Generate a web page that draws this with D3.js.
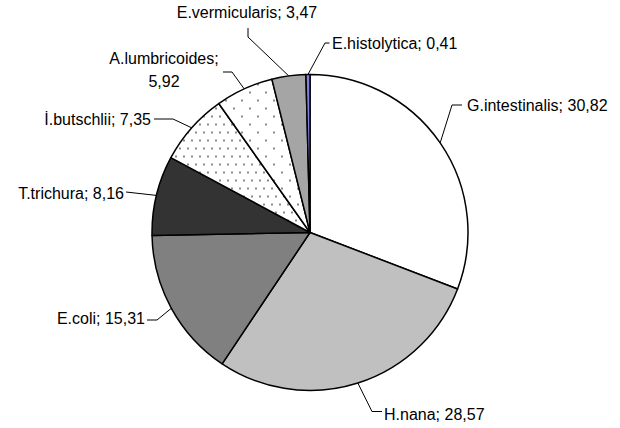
<!DOCTYPE html>
<html>
<head>
<meta charset="utf-8">
<script src="https://cdn.jsdelivr.net/npm/d3@7/dist/d3.min.js"></script>
<style>
  html, body { margin: 0; padding: 0; background: #fff; }
  svg { display: block; }
</style>
</head>
<body>
<svg id="chart"></svg>
<script>
// data
const categories = ['G.intestinalis', 'H.nana', 'E.coli', 'T.trichura', 'İ.butschlii', 'A.lumbricoides', 'E.vermicularis', 'E.histolytica'];
const values = [30.82, 28.57, 15.31, 8.16, 7.35, 5.92, 3.47, 0.41];
const valueLabels = ['30,82', '28,57', '15,31', '8,16', '7,35', '5,92', '3,47', '0,41'];

// fills: plain colours or pattern ids
const fills = ['#ffffff', '#c0c0c0', '#808080', '#333333', 'url(#dotsDense)', 'url(#dotsSparse)', 'url(#checker)', '#8080e0'];

// label placement, relative to pie centre (bend point, end point, text anchor)
const labelLayout = [
  { bend: [142, -127.5], end: [152, -127.5], text: [157, -121.5], anchor: 'start' },
  { bend: [62, 179], end: [72, 179], text: [74, 187.5], anchor: 'start' },
  { bend: [-153, 87.5], end: [-163, 87.5], text: [-165, 91], anchor: 'end' },
  { bend: [-184, -40.5], end: [-184, -40.5], text: [-186, -33.5], anchor: 'end' },
  { bend: [-137, -113.5], end: [-156, -113.5], text: [-159, -107.5], anchor: 'end' },
  { bend: [-78, -160.5], end: [-87, -160.5], text: [-146, -168.5], anchor: 'middle', twoLines: true },
  { bend: [-62, -195.5], end: [-62, -204.5], text: [-63, -215], anchor: 'middle' },
  { bend: [15, -189.5], end: [19.5, -189.5], text: [22, -184], anchor: 'start' }
];

const W = 620, H = 428;
const cx = 310, cy = 232.5, radius = 158;

const svg = d3.select('#chart')
  .attr('width', W)
  .attr('height', H);

// patterns
const defs = svg.append('defs');

const dense = defs.append('pattern')
  .attr('id', 'dotsDense')
  .attr('patternUnits', 'userSpaceOnUse')
  .attr('width', 8).attr('height', 16);
dense.append('rect').attr('width', 8).attr('height', 16).attr('fill', '#fff');
dense.append('rect').attr('x', 1).attr('y', 3).attr('width', 2).attr('height', 2).attr('fill', '#8a8a8a');
dense.append('rect').attr('x', 5).attr('y', 11).attr('width', 2).attr('height', 2).attr('fill', '#8a8a8a');

const sparse = defs.append('pattern')
  .attr('id', 'dotsSparse')
  .attr('patternUnits', 'userSpaceOnUse')
  .attr('width', 16).attr('height', 16);
sparse.append('rect').attr('width', 16).attr('height', 16).attr('fill', '#fff');
sparse.append('rect').attr('x', 3).attr('y', 3).attr('width', 2).attr('height', 2).attr('fill', '#8a8a8a');
sparse.append('rect').attr('x', 11).attr('y', 11).attr('width', 2).attr('height', 2).attr('fill', '#8a8a8a');

const checker = defs.append('pattern')
  .attr('id', 'checker')
  .attr('patternUnits', 'userSpaceOnUse')
  .attr('width', 2).attr('height', 2);
checker.append('rect').attr('width', 2).attr('height', 2).attr('fill', '#cfcfcf');
checker.append('rect').attr('width', 1).attr('height', 1).attr('fill', '#7a7a7a');
checker.append('rect').attr('x', 1).attr('y', 1).attr('width', 1).attr('height', 1).attr('fill', '#7a7a7a');

const g = svg.append('g')
  .attr('transform', `translate(${cx}, ${cy})`);

const data = categories.map((c, i) => ({ name: c, value: values[i], label: valueLabels[i], i }));

const pie = d3.pie()
  .value(d => d.value)
  .sort(null);

const arc = d3.arc()
  .innerRadius(0)
  .outerRadius(radius);

const arcs = pie(data);

// slices
g.selectAll('.slice')
  .data(arcs)
  .enter().append('path')
  .attr('class', 'slice')
  .attr('d', arc)
  .attr('fill', d => fills[d.data.i])
  .attr('stroke', '#000')
  .attr('stroke-width', 1.5)
  .attr('stroke-linejoin', 'round');

// leader lines from the arc edge midpoint
const edgePoint = d => {
  const a = (d.startAngle + d.endAngle) / 2;
  return [radius * Math.sin(a), -radius * Math.cos(a)];
};

g.selectAll('.leader')
  .data(arcs)
  .enter().append('polyline')
  .attr('class', 'leader')
  .attr('fill', 'none')
  .attr('stroke', '#000')
  .attr('stroke-width', 1)
  .attr('points', d => {
    const L = labelLayout[d.data.i];
    return [edgePoint(d), L.bend, L.end].map(p => p.join(',')).join(' ');
  });

// labels
const labels = g.selectAll('.label')
  .data(arcs)
  .enter().append('text')
  .attr('class', 'label')
  .attr('x', d => labelLayout[d.data.i].text[0])
  .attr('y', d => labelLayout[d.data.i].text[1])
  .attr('text-anchor', d => labelLayout[d.data.i].anchor)
  .style('font-family', '"Liberation Sans", Arial, sans-serif')
  .style('font-size', '16px')
  .style('fill', '#000');

labels.each(function(d) {
  const L = labelLayout[d.data.i];
  const t = d3.select(this);
  if (L.twoLines) {
    t.append('tspan').attr('x', L.text[0]).text(`${d.data.name};`);
    t.append('tspan').attr('x', L.text[0]).attr('dy', 23).text(d.data.label);
  } else {
    t.text(`${d.data.name}; ${d.data.label}`);
  }
});
</script>
</body>
</html>
